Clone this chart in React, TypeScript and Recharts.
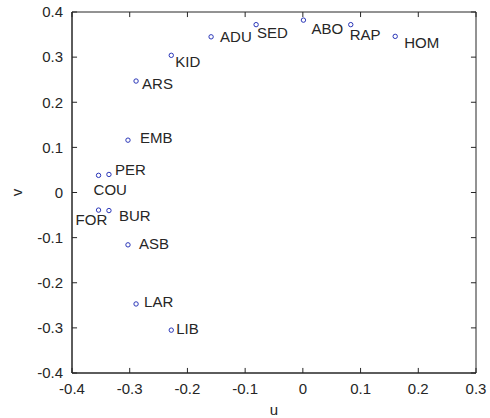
import React from 'react';
import {
  ScatterChart,
  Scatter,
  XAxis,
  YAxis,
  ReferenceArea,
  ReferenceLine,
  Label
} from 'recharts';

// category codes and their (u, v) coordinates
const names = ['ADU', 'KID', 'ARS', 'EMB', 'PER', 'COU', 'FOR', 'BUR', 'ASB', 'LAR', 'LIB', 'SED', 'ABO', 'RAP', 'HOM'];
const uValues = [-0.159, -0.228, -0.289, -0.303, -0.336, -0.354, -0.354, -0.336, -0.303, -0.289, -0.228, -0.081, 0.001, 0.083, 0.160];
const vValues = [0.345, 0.304, 0.247, 0.116, 0.040, 0.038, -0.039, -0.040, -0.116, -0.247, -0.305, 0.372, 0.382, 0.372, 0.346];

const uTicks = [-0.4, -0.3, -0.2, -0.1, 0, 0.1, 0.2, 0.3];
const vTicks = [-0.4, -0.3, -0.2, -0.1, 0, 0.1, 0.2, 0.3, 0.4];

const U_MIN = -0.4, U_MAX = 0.3;
const V_MIN = -0.4, V_MAX = 0.4;

// where each label sits relative to its marker (px)
const labelOffsets: Record<string, [number, number]> = {
  ADU: [9, 0],
  KID: [4, 6],
  ARS: [6, 2],
  EMB: [12, -3],
  PER: [6, -5],
  COU: [-5, 14],
  FOR: [-23, 9],
  BUR: [10, 5],
  ASB: [11, -1],
  LAR: [8, -2],
  LIB: [5, -2],
  SED: [1, 8],
  ABO: [8, 8],
  RAP: [-1, 10],
  HOM: [9, 6]
};

const data = names.map((name, i) => ({ name, u: uValues[i], v: vValues[i] }));

const FONT = '"Liberation Sans", Arial, Helvetica, sans-serif';
const INK = '#262626';
const DOT = '#2a36b8';

// inward tick length, as a fraction of each axis span (~5px)
const TICK_FRAC_U = 0.0125;
const TICK_FRAC_V = 0.014;
const tu = (U_MAX - U_MIN) * TICK_FRAC_U;
const tv = (V_MAX - V_MIN) * TICK_FRAC_V;

const fmt = (t: number) => (t === 0 ? '0' : t.toFixed(1));

const PointWithLabel = (props: any) => {
  const { cx, cy, payload } = props;
  const [dx, dy] = labelOffsets[payload.name] || [6, 0];
  return (
    <g>
      <circle cx={cx} cy={cy} r={2.2} fill="none" stroke={DOT} strokeWidth={1} />
      <text
        x={cx + dx}
        y={cy + dy}
        dominantBaseline="central"
        fontSize={15}
        fontFamily={FONT}
        fill={INK}
      >
        {payload.name}
      </text>
    </g>
  );
};

export default function App() {
  const tickStyle = { fill: INK, fontSize: 15, fontFamily: FONT };
  const labelStyle = { fill: INK, fontSize: 15, fontFamily: FONT };
  return (
    <div style={{ position: 'absolute', left: 0, top: 0, background: '#fff' }}>
      <ScatterChart
        width={490}
        height={418}
        margin={{ top: 12, right: 14, bottom: 0, left: 0 }}
      >
        <XAxis
          type="number"
          dataKey="u"
          domain={[U_MIN, U_MAX]}
          ticks={uTicks}
          tickFormatter={fmt}
          allowDataOverflow
          height={45}
          tickLine={false}
          tickSize={0}
          tickMargin={10}
          stroke={INK}
          tick={tickStyle}
        >
          <Label value="u" position="center" dy={14} style={labelStyle} />
        </XAxis>
        <YAxis
          type="number"
          dataKey="v"
          domain={[V_MIN, V_MAX]}
          ticks={vTicks}
          tickFormatter={fmt}
          allowDataOverflow
          width={72}
          tickLine={false}
          tickSize={0}
          tickMargin={9}
          stroke={INK}
          tick={tickStyle}
        >
          <Label value="v" position="center" angle={-90} dx={-19} style={labelStyle} />
        </YAxis>

        {/* frame */}
        <ReferenceArea
          x1={U_MIN}
          x2={U_MAX}
          y1={V_MIN}
          y2={V_MAX}
          fill="none"
          stroke={INK}
          ifOverflow="visible"
        />

        {/* inward ticks on all four sides */}
        {uTicks.map(t => (
          <ReferenceLine
            key={`ub${t}`}
            segment={[{ x: t, y: V_MIN }, { x: t, y: V_MIN + tv }]}
            stroke={INK}
            ifOverflow="visible"
          />
        ))}
        {uTicks.map(t => (
          <ReferenceLine
            key={`ut${t}`}
            segment={[{ x: t, y: V_MAX }, { x: t, y: V_MAX - tv }]}
            stroke={INK}
            ifOverflow="visible"
          />
        ))}
        {vTicks.map(t => (
          <ReferenceLine
            key={`vl${t}`}
            segment={[{ x: U_MIN, y: t }, { x: U_MIN + tu, y: t }]}
            stroke={INK}
            ifOverflow="visible"
          />
        ))}
        {vTicks.map(t => (
          <ReferenceLine
            key={`vr${t}`}
            segment={[{ x: U_MAX, y: t }, { x: U_MAX - tu, y: t }]}
            stroke={INK}
            ifOverflow="visible"
          />
        ))}

        <Scatter
          data={data}
          shape={PointWithLabel}
          isAnimationActive={false}
        />
      </ScatterChart>
    </div>
  );
}
